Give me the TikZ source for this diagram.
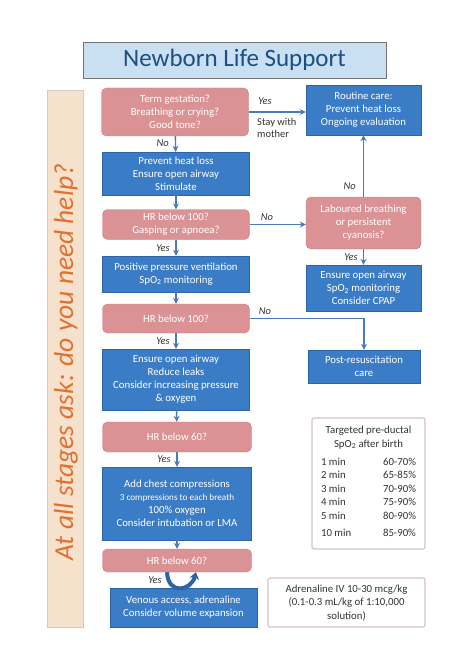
\documentclass[tikz,border=0pt]{standalone}
\usepackage{fontspec}
\setmainfont{Carlito}
\usetikzlibrary{arrows.meta, positioning}
\definecolor{nlsred}{HTML}{DA9294}
\definecolor{nlsredline}{HTML}{C77E81}
\definecolor{nlsblue}{HTML}{3B7CC6}
\definecolor{nlsblueline}{HTML}{2D64A6}
\definecolor{nlsarrow}{HTML}{4A7DB8}
\definecolor{nlstitle}{HTML}{C9DFF2}
\definecolor{nlsnavy}{HTML}{1E4F80}
\definecolor{nlspeach}{HTML}{F6E1CC}
\definecolor{nlsorange}{HTML}{E2702F}
\definecolor{nlsgrey}{HTML}{D5C3C6}

\begin{document}
\begin{tikzpicture}[x=1pt, y=-1pt,
  dec/.style={draw=nlsredline, fill=nlsred, rounded corners=5pt,
    text=white, align=center, inner sep=0pt,
    minimum width=147pt, minimum height=30pt,
    font=\fontsize{10.8}{13}\selectfont},
  act/.style={draw=nlsblueline, fill=nlsblue, text=white,
    align=center, inner sep=0pt,
    minimum width=147pt, minimum height=36pt,
    font=\fontsize{10.8}{13}\selectfont},
  note/.style={draw=nlsgrey, line width=1.2pt, fill=white,
    rounded corners=2pt, text=black!80, align=center, inner sep=0pt,
    font=\fontsize{10.8}{13.5}\selectfont},
  lbl/.style={font=\fontsize{10.5}{12}\selectfont\itshape,
    text=black!80, inner sep=1pt},
  arr/.style={-{Stealth[length=6pt,width=6pt]}, nlsarrow, line width=1.4pt},
]
\useasboundingbox (0,0) rectangle (474,671);
% title and side bar
\node[draw=black!55, fill=nlstitle, minimum width=303pt, minimum height=36pt,
  text=nlsnavy, font=\fontsize{25}{28}\selectfont] (title) at (234.5,60)
  {Newborn Life Support};
\node[draw=black!20, fill=nlspeach, minimum width=36pt, minimum height=537pt]
  (bar) at (65,358.5) {};
\node[rotate=90, text=nlsorange, font=\fontsize{27.5}{30}\selectfont\itshape]
  (ask) at (66,362) {At all stages ask: do you need help?};
% left column
\node[dec, minimum height=48pt] (term) at (175,112)
  {Term gestation?\\ Breathing or crying?\\ Good tone?};
\node[act, minimum height=43pt] (warm) at (176,173.5)
  {Prevent heat loss\\ Ensure open airway\\ Stimulate};
\node[dec] (hr1) at (176,224.5) {HR below 100?\\ Gasping or apnoea?};
\node[act] (ppv) at (176,274)
  {Positive pressure ventilation\\ SpO\textsubscript{2} monitoring};
\node[dec, minimum height=29pt] (hr2) at (176,318.5) {HR below 100?};
\node[act, minimum height=61pt] (airway) at (176,379.5)
  {Ensure open airway\\ Reduce leaks\\ Consider increasing pressure\\ \& oxygen};
\node[dec, minimum width=149pt] (hr3) at (177,437) {HR below 60?};
\node[act, minimum width=149pt, minimum height=73pt] (cc) at (177,503.5)
  {Add chest compressions\\
   {\fontsize{9.2}{12}\selectfont 3 compressions to each breath}\\
   100\% oxygen\\ Consider intubation or LMA};
\node[dec, minimum width=149pt, minimum height=23pt] (hr4) at (177,560.5)
  {HR below 60?};
\node[act, minimum height=39pt] (venous) at (183.5,607.5)
  {Venous access, adrenaline\\ Consider volume expansion};
% right column
\node[act, minimum width=115pt, minimum height=50pt] (routine) at (363.5,110)
  {Routine care:\\ Prevent heat loss\\ Ongoing evaluation};
\node[dec, minimum width=115pt, minimum height=52pt] (lab) at (363.5,223)
  {Laboured breathing\\ or persistent\\ cyanosis?};
\node[act, minimum width=115pt, minimum height=46pt] (cpap) at (363.5,288)
  {Ensure open airway\\ SpO\textsubscript{2} monitoring\\ Consider CPAP};
\node[act, minimum width=112pt, minimum height=33pt] (post) at (364,366.5)
  {Post-resuscitation\\ care};
\node[note, minimum width=113pt, minimum height=131pt] (spo) at (368.5,483.5)
  {Targeted pre-ductal\\ SpO\textsubscript{2} after birth\\[6pt]
   \begin{tabular}{@{}p{62pt}@{}r@{}}
   1 min & 60-70\%\\ 2 min & 65-85\%\\ 3 min & 70-90\%\\
   4 min & 75-90\%\\ 5 min & 80-90\%\\[4pt] 10 min & 85-90\%
   \end{tabular}};
\node[note, minimum width=157pt, minimum height=49pt] (adren) at (346.5,602.5)
  {Adrenaline IV 10-30 mcg/kg\\ (0.1-0.3 mL/kg of 1:10,000\\ solution)};
% down the left column
\draw[arr] (term) -- (warm);
\draw[arr] (warm) -- (hr1);
\draw[arr] (hr1) -- (ppv);
\draw[arr] (ppv) -- (hr2);
\draw[arr] (hr2) -- (airway);
\draw[arr] (airway) -- (hr3);
\draw[arr] (hr3) -- (cc);
\draw[arr] (cc) -- (hr4);
\draw[nlsblueline, line width=4pt, -{Stealth[length=7pt,width=10pt]}]
  ([xshift=-10pt]hr4.south) .. controls +(1,23) and +(-5,19) ..
  ([xshift=19pt]hr4.south);
% across to the right
\draw[arr] (term.east) -- (term.east -| routine.west);
\draw[arr] (hr1.east) -- (hr1.east -| lab.west);
\draw[arr] (lab) -- (routine);
\draw[arr] (lab) -- (cpap);
\draw[arr] (hr2.east) -| (post.north);
% labels
\node[lbl] (yes1) at (265,101) {Yes};
\node[lbl, font=\fontsize{10.5}{12.5}\selectfont, align=left, anchor=west]
  (stay) at (256,128) {Stay with\\ mother};
\node[lbl, anchor=east] (no1) at (170,143) {No};
\node[lbl] (no2) at (267,217) {No};
\node[lbl, anchor=east] (yes2) at (171,248) {Yes};
\node[lbl, anchor=east] (no3) at (357,186) {No};
\node[lbl, anchor=east] (yes3) at (359,257) {Yes};
\node[lbl] (no4) at (265,311) {No};
\node[lbl, anchor=east] (yes4) at (171,341) {Yes};
\node[lbl, anchor=east] (yes5) at (172,459) {Yes};
\node[lbl, anchor=east] (yes6) at (163,580) {Yes};
\end{tikzpicture}
\end{document}
